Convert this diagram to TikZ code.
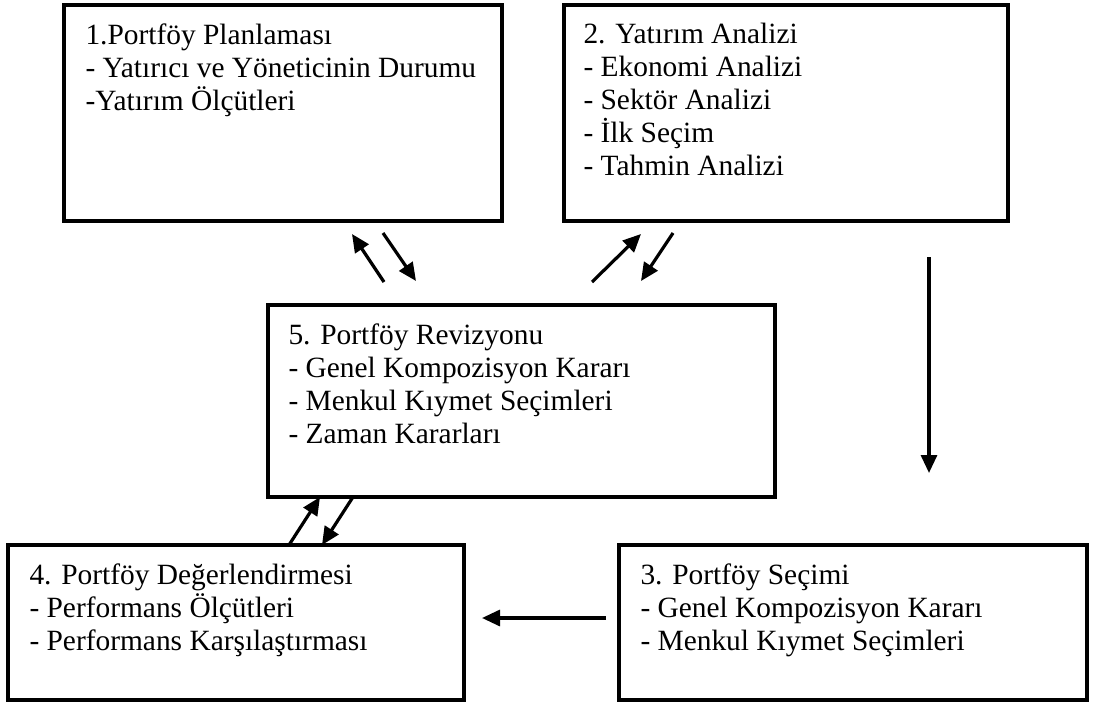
\documentclass[tikz,border=0pt]{standalone}
\usepackage{fontspec}
\setmainfont{Liberation Serif}
\usetikzlibrary{arrows.meta}

\begin{document}
\begin{tikzpicture}[x = 1pt, y = -1pt,
                box/.style = {draw, line width = 3.4pt, inner sep = 0pt},
                boxtext/.style = {anchor = north west, inner sep = 0pt, align = left,
                    font = \fontsize{29.4}{33}\selectfont},
                arr/.style = {line width = 3.2pt, -{Triangle[length = 18pt, width = 16pt]}}]
                \useasboundingbox (0, 0) rectangle (1093, 704);

                \node [box, minimum width = 438pt, minimum height = 216pt] (plan) at (283, 113) {};
                \node [box, minimum width = 444pt, minimum height = 216pt] (analiz) at (786, 113) {};
                \node [box, minimum width = 507pt, minimum height = 192pt] (revizyon) at (521.5, 401) {};
                \node [box, minimum width = 456pt, minimum height = 155pt] (deger) at (236, 622.5) {};
                \node [box, minimum width = 468pt, minimum height = 155pt] (secim) at (853, 622.5) {};

                \node [boxtext] (plantext) at ([shift = {(23, 20)}] plan.north west)
                    {1.Portföy Planlaması\\- Yatırıcı ve Yöneticinin Durumu\\-Yatırım Ölçütleri};
                \node [boxtext] (analiztext) at ([shift = {(21, 20)}] analiz.north west)
                    {2. Yatırım Analizi\\- Ekonomi Analizi\\- Sektör Analizi\\- İlk Seçim\\- Tahmin Analizi};
                \node [boxtext] (revizyontext) at ([shift = {(22, 20)}] revizyon.north west)
                    {5. Portföy Revizyonu\\- Genel Kompozisyon Kararı\\- Menkul Kıymet Seçimleri\\- Zaman Kararları};
                \node [boxtext] (degertext) at ([shift = {(23, 20)}] deger.north west)
                    {4. Portföy Değerlendirmesi\\- Performans Ölçütleri\\- Performans Karşılaştırması};
                \node [boxtext] (secimtext) at ([shift = {(23, 20)}] secim.north west)
                    {3. Portföy Seçimi\\- Genel Kompozisyon Kararı\\- Menkul Kıymet Seçimleri};

                \coordinate (p1) at (384, 282);
                \coordinate (p2) at (352, 234);
                \coordinate (p3) at (383, 233);
                \coordinate (p4) at (416, 281);
                \coordinate (a1) at (592, 282);
                \coordinate (a2) at (641, 234);
                \coordinate (a3) at (673, 233);
                \coordinate (a4) at (641, 281);
                \coordinate (s1) at (929, 257);
                \coordinate (s2) at (929, 473);
                \coordinate (d1) at (606, 618);
                \coordinate (d2) at (482, 618);
                \coordinate (r1) at (289, 545);
                \coordinate (r2) at (320, 497);
                \coordinate (r3) at (353, 497);
                \coordinate (r4) at (322, 545);

                \draw [arr] (p1) -- (p2);
                \draw [arr] (p3) -- (p4);
                \draw [arr] (a1) -- (a2);
                \draw [arr] (a3) -- (a4);
                \draw [arr] (s1) -- (s2);
                \draw [arr] (d1) -- (d2);
                \draw [arr] (r1) -- (r2);
                \draw [arr] (r3) -- (r4);
            \end{tikzpicture}
\end{document}
